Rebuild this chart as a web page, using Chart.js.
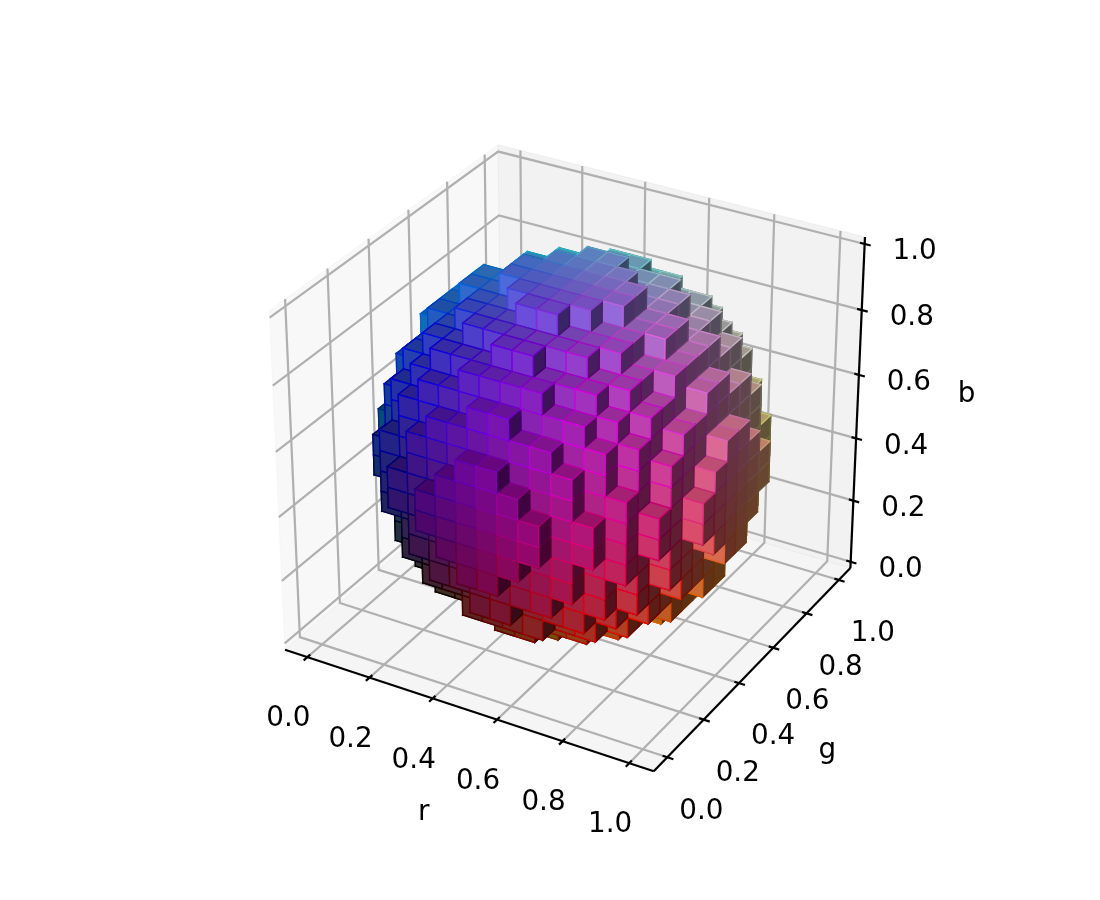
<!DOCTYPE html>
<html>
<head>
<meta charset="utf-8">
<title>RGB voxel sphere</title>
<script src="https://cdn.jsdelivr.net/npm/chart.js@4"></script>
<style>
  html, body { margin: 0; padding: 0; background: #ffffff; overflow: hidden; }
  canvas { display: block; }
</style>
</head>
<body>
<canvas id="voxelChart" width="1100" height="900"></canvas>
<script>
// axes
const tickValues = [0, 0.2, 0.4, 0.6, 0.8, 1];
const tickLabels = ['0.0', '0.2', '0.4', '0.6', '0.8', '1.0'];
const axisNames = ['r', 'g', 'b'];

// filled voxels: one row per b layer, one number per g column.
// the number says how many r cells are filled each side of the middle
const voxelHalfRuns = [
  [0, 0, 0, 0, 0, 1, 2, 3, 3, 2, 1, 0, 0, 0, 0, 0],
  [0, 0, 0, 1, 3, 4, 4, 5, 5, 4, 4, 3, 1, 0, 0, 0],
  [0, 0, 2, 4, 5, 5, 6, 6, 6, 6, 5, 5, 4, 2, 0, 0],
  [0, 1, 4, 5, 6, 6, 6, 7, 7, 6, 6, 6, 5, 4, 1, 0],
  [0, 3, 5, 6, 6, 7, 7, 7, 7, 7, 7, 6, 6, 5, 3, 0],
  [1, 4, 5, 6, 7, 7, 7, 8, 8, 7, 7, 7, 6, 5, 4, 1],
  [2, 4, 6, 6, 7, 7, 8, 8, 8, 8, 7, 7, 6, 6, 4, 2],
  [3, 5, 6, 7, 7, 8, 8, 8, 8, 8, 8, 7, 7, 6, 5, 3],
  [3, 5, 6, 7, 7, 8, 8, 8, 8, 8, 8, 7, 7, 6, 5, 3],
  [2, 4, 6, 6, 7, 7, 8, 8, 8, 8, 7, 7, 6, 6, 4, 2],
  [1, 4, 5, 6, 7, 7, 7, 8, 8, 7, 7, 7, 6, 5, 4, 1],
  [0, 3, 5, 6, 6, 7, 7, 7, 7, 7, 7, 6, 6, 5, 3, 0],
  [0, 1, 4, 5, 6, 6, 6, 7, 7, 6, 6, 6, 5, 4, 1, 0],
  [0, 0, 2, 4, 5, 5, 6, 6, 6, 6, 5, 5, 4, 2, 0, 0],
  [0, 0, 0, 1, 3, 4, 4, 5, 5, 4, 4, 3, 1, 0, 0, 0],
  [0, 0, 0, 0, 0, 1, 2, 3, 3, 2, 1, 0, 0, 0, 0, 0]
];

const GRID = voxelHalfRuns.length;

// where the panes sit: r and g have autoscale margins, b does not
const PANE_LO = [-0.07292, -0.07292, -0.02083];
const PANE_HI = [1.07292, 1.07292, 1.02083];

// view: elev 30, azim -60, camera distance 10
const VIEW_U = [0.8660254, 0.5, 0];
const VIEW_V = [-0.25, 0.4330127, 0.8660254];
const VIEW_W = [0.4330127, -0.75, 0.5];
const DIST = 10;

function dot(a, b) {
  return a[0] * b[0] + a[1] * b[1] + a[2] * b[2];
}

// data cube -> view plane, z is the depth used for sorting (bigger = further away)
function project(x, y, z) {
  const q = [x - 0.5, y - 0.5, z - 0.5];
  const d = DIST - dot(VIEW_W, q);
  return { x: dot(VIEW_U, q) / d, y: dot(VIEW_V, q) / d, depth: -DIST / d };
}

function isFilled(i, j, k) {
  if (i < 0 || j < 0 || k < 0 || i >= GRID || j >= GRID || k >= GRID) return false;
  const n = voxelHalfRuns[k][j];
  return i >= GRID / 2 - n && i < GRID / 2 + n;
}

// the six sides of a cell, with the light falling on each
const CUBE_SIDES = [
  { step: [1, 0, 0],  shade: 0.4167, corners: [[1,0,0],[1,1,0],[1,1,1],[1,0,1]] },
  { step: [-1, 0, 0], shade: 0.8833, corners: [[0,0,0],[0,0,1],[0,1,1],[0,1,0]] },
  { step: [0, 1, 0],  shade: 0.4167, corners: [[0,1,0],[0,1,1],[1,1,1],[1,1,0]] },
  { step: [0, -1, 0], shade: 0.8833, corners: [[0,0,0],[1,0,0],[1,0,1],[0,0,1]] },
  { step: [0, 0, 1],  shade: 0.7667, corners: [[0,0,1],[1,0,1],[1,1,1],[0,1,1]] },
  { step: [0, 0, -1], shade: 0.5333, corners: [[0,0,0],[0,1,0],[1,1,0],[1,0,0]] }
];

function shadeColor(c, shade) {
  const v = c.map(n => Math.round(Math.min(1, Math.max(0, n)) * shade * 255));
  return 'rgb(' + v[0] + ',' + v[1] + ',' + v[2] + ')';
}

// build faces voxel by voxel, far voxels first, far faces first inside a voxel
function buildVoxelDatasets() {
  const voxels = [];
  for (let i = 0; i < GRID; i++) {
    for (let j = 0; j < GRID; j++) {
      for (let k = 0; k < GRID; k++) {
        if (!isFilled(i, j, k)) continue;
        const faces = [];
        let nearest = Infinity;
        CUBE_SIDES.forEach(side => {
          if (isFilled(i + side.step[0], j + side.step[1], k + side.step[2])) return;
          const pts = side.corners.map(c => project((i + c[0]) / GRID, (j + c[1]) / GRID, (k + c[2]) / GRID));
          let sum = 0;
          pts.forEach(p => { sum += p.depth; nearest = Math.min(nearest, p.depth); });
          faces.push({ side, pts, depth: sum / 4 });
        });
        if (!faces.length) continue;
        faces.sort((a, b) => b.depth - a.depth);
        voxels.push({ i, j, k, faces, nearest });
      }
    }
  }
  voxels.sort((a, b) => b.nearest - a.nearest);

  const out = [];
  voxels.forEach(v => {
    const mid = [(v.i + 0.5) / GRID, (v.j + 0.5) / GRID, (v.k + 0.5) / GRID];
    const edge = mid.map(n => 2 * n - 0.5);
    v.faces.forEach(f => {
      out.push({
        type: 'poly',
        data: f.pts.map(p => ({ x: p.x, y: p.y })),
        backgroundColor: shadeColor(mid, f.side.shade),
        borderColor: shadeColor(edge, f.side.shade),
        borderWidth: 1.39,
        pointRadius: 0
      });
    });
  });
  return out;
}

function planePoly(points, color) {
  return {
    type: 'poly',
    data: points.map(p => { const q = project(p[0], p[1], p[2]); return { x: q.x, y: q.y }; }),
    backgroundColor: color,
    borderColor: color,
    borderWidth: 1,
    pointRadius: 0
  };
}

function segment(points, color) {
  return {
    type: 'line',
    data: points.map(p => { const q = project(p[0], p[1], p[2]); return { x: q.x, y: q.y }; }),
    borderColor: color,
    borderWidth: 2.22,
    fill: false,
    pointRadius: 0,
    tension: 0
  };
}

// panes, grid, axis lines and ticks, in drawing order
function buildAxisDatasets() {
  const [xl, yl, zl] = PANE_LO;
  const [xh, yh, zh] = PANE_HI;
  const grid = '#b0b0b0', ink = '#000000';
  const tickIn = 0.014, tickOut = 0.018;
  const out = [
    planePoly([[xl,yl,zl],[xl,yh,zl],[xl,yh,zh],[xl,yl,zh]], 'rgba(242,242,242,0.5)'),
    planePoly([[xl,yh,zl],[xh,yh,zl],[xh,yh,zh],[xl,yh,zh]], 'rgba(230,230,230,0.5)'),
    planePoly([[xl,yl,zl],[xh,yl,zl],[xh,yh,zl],[xl,yh,zl]], 'rgba(236,236,236,0.5)')
  ];
  tickValues.forEach(t => {
    out.push(segment([[t,yl,zl],[t,yh,zl],[t,yh,zh]], grid));
    out.push(segment([[xh,t,zl],[xl,t,zl],[xl,t,zh]], grid));
    out.push(segment([[xl,yl,t],[xl,yh,t],[xh,yh,t]], grid));
  });
  out.push(segment([[xl,yl,zl],[xh,yl,zl]], ink));
  out.push(segment([[xh,yl,zl],[xh,yh,zl]], ink));
  out.push(segment([[xh,yh,zl],[xh,yh,zh]], ink));
  tickValues.forEach(t => {
    out.push(segment([[t,yl + tickIn,zl],[t,yl - tickOut,zl]], ink));
    out.push(segment([[xh - tickIn,t,zl],[xh + tickOut,t,zl]], ink));
    out.push(segment([[xh - tickIn,yh,t],[xh + tickOut,yh,t]], ink));
  });
  return out;
}

// closed filled quad, the line controller only supplies the scaled points
class PolyController extends Chart.LineController {
  draw() {
    const ctx = this.chart.ctx;
    const pts = this.getMeta().data;
    const ds = this.getDataset();
    ctx.save();
    ctx.beginPath();
    pts.forEach((p, i) => { if (i) ctx.lineTo(p.x, p.y); else ctx.moveTo(p.x, p.y); });
    ctx.closePath();
    ctx.fillStyle = ds.backgroundColor;
    ctx.fill();
    ctx.lineWidth = ds.borderWidth;
    ctx.strokeStyle = ds.borderColor;
    ctx.stroke();
    ctx.restore();
  }
}
PolyController.id = 'poly';
Chart.register(PolyController);

// tick labels and axis names, placed from the axis position through the scales
const axisText = {
  id: 'axisText',
  afterDatasetsDraw(chart) {
    const { ctx, scales } = chart;
    const [xl, yl, zl] = PANE_LO;
    const [xh, yh] = PANE_HI;
    const put = (p, dx, dy, text) => {
      const q = project(p[0], p[1], p[2]);
      ctx.fillText(text, scales.x.getPixelForValue(q.x) + dx, scales.y.getPixelForValue(q.y) + dy);
    };
    ctx.save();
    ctx.font = '27.8px "DejaVu Sans"';
    ctx.fillStyle = '#000000';
    ctx.textAlign = 'center';
    ctx.textBaseline = 'middle';
    tickValues.forEach((t, n) => {
      put([t, yl, zl], -19, 62, tickLabels[n]);
      put([xh, t, zl], 34, 54, tickLabels[n]);
      put([xh, yh, t], 50, 8, tickLabels[n]);
    });
    put([0.5, yl, zl], -41, 104, axisNames[0]);
    put([xh, 0.5, zl], 71, 85, axisNames[1]);
    put([xh, yh, 0.5], 109, -12, axisNames[2]);
    ctx.restore();
  }
};

// Chart.js paints the last dataset first, so flip the drawing order
const datasets = buildAxisDatasets().concat(buildVoxelDatasets()).reverse();

new Chart(document.getElementById('voxelChart'), {
  type: 'line',
  data: { datasets },
  plugins: [axisText],
  options: {
    responsive: false,
    devicePixelRatio: 1,
    animation: false,
    parsing: false,
    normalized: false,
    events: [],
    layout: { padding: 0 },
    plugins: { legend: { display: false }, tooltip: { enabled: false } },
    scales: {
      x: { type: 'linear', display: false, min: -0.15457, max: 0.14232 },
      y: { type: 'linear', display: false, min: -0.12257, max: 0.11988 }
    }
  }
});
</script>
</body>
</html>
